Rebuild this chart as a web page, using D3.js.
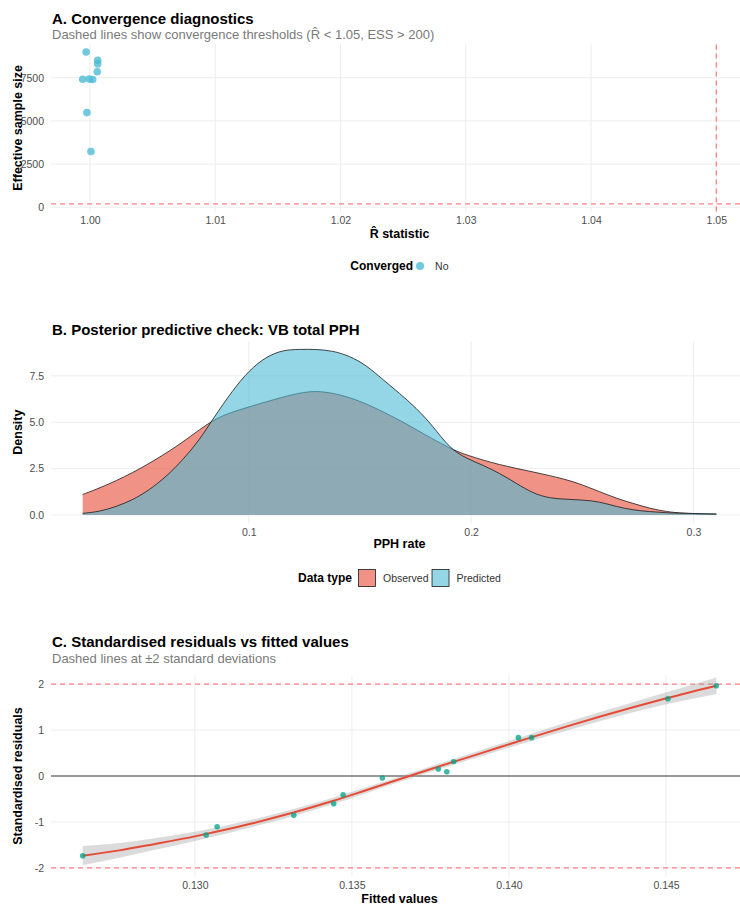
<!DOCTYPE html>
<html>
<head>
<meta charset="utf-8">
<script src="https://cdn.jsdelivr.net/npm/d3@7"></script>
<style>
body { margin: 0; background: #fff; }
svg { display: block; font-family: "Liberation Sans", Arial, sans-serif; }
</style>
</head>
<body>
<div id="chart"></div>
<script>
// A. convergence diagnostics (one point per parameter)
const rhat = [0.99970, 1.00062, 1.00062, 1.00058, 0.99942, 0.99994, 1.00022, 0.99976, 1.00008];
const ess = [8990, 8510, 8300, 7850, 7410, 7420, 7400, 5480, 3230];
const rhatCut = 1.05;
const essCut = 200;
const rhatTicks = [1.00, 1.01, 1.02, 1.03, 1.04, 1.05];
const essTicks = [0, 2500, 5000, 7500];

// B. posterior predictive densities
const obsX = [0.0253, 0.0328, 0.0478, 0.0628, 0.0718, 0.0838, 0.0928, 0.1078, 0.1228, 0.1321, 0.1425, 0.1528, 0.1678, 0.1790, 0.1903, 0.1978, 0.2128, 0.2278, 0.2428, 0.2502, 0.2578, 0.2653, 0.2727, 0.2803, 0.2878, 0.2952, 0.3103];
const obsY = [1.11, 1.44, 2.25, 3.32, 4.05, 5.14, 5.57, 6.10, 6.61, 6.70, 6.45, 6.02, 5.12, 4.35, 3.59, 3.23, 2.69, 2.33, 1.92, 1.62, 1.26, 0.90, 0.63, 0.36, 0.18, 0.09, 0.05];
const predX = [0.0253, 0.0328, 0.0403, 0.0478, 0.0553, 0.0628, 0.0703, 0.0778, 0.0838, 0.0928, 0.1003, 0.1078, 0.1153, 0.1228, 0.1303, 0.1378, 0.1453, 0.1528, 0.1603, 0.1678, 0.1753, 0.1828, 0.1903, 0.1978, 0.2053, 0.2128, 0.2203, 0.2278, 0.2353, 0.2428, 0.2503, 0.2578, 0.2653, 0.2728, 0.2803, 0.2878, 0.2952, 0.3103];
const predY = [0.09, 0.18, 0.45, 0.81, 1.35, 2.06, 2.96, 4.04, 5.16, 6.73, 7.81, 8.53, 8.89, 8.93, 8.93, 8.85, 8.57, 8.08, 7.30, 6.56, 5.77, 4.80, 3.60, 3.05, 2.69, 2.25, 1.71, 1.17, 0.90, 0.85, 0.81, 0.72, 0.45, 0.27, 0.18, 0.12, 0.09, 0.05];
const pphTicks = [0.1, 0.2, 0.3];
const densTicks = [0, 2.5, 5, 7.5];
const dataTypes = ["Observed", "Predicted"];

// C. residuals vs fitted
const fitted = [0.12643, 0.13036, 0.13071, 0.13315, 0.13442, 0.13472, 0.13597, 0.13775, 0.13802, 0.13824, 0.14030, 0.14072, 0.14506, 0.14660];
const resid = [-1.736, -1.285, -1.104, -0.857, -0.603, -0.407, -0.044, 0.153, 0.094, 0.312, 0.835, 0.835, 1.684, 1.967];
const smoothX = [0.12643, 0.12760, 0.12866, 0.13004, 0.13078, 0.13184, 0.13290, 0.13397, 0.13439, 0.13545, 0.13651, 0.13757, 0.13864, 0.13970, 0.14076, 0.14182, 0.14288, 0.14395, 0.14501, 0.14660];
const smoothY = [-1.736, -1.620, -1.490, -1.310, -1.200, -1.030, -0.840, -0.630, -0.545, -0.310, -0.070, 0.165, 0.395, 0.625, 0.852, 1.075, 1.290, 1.497, 1.693, 1.967];
const smoothSE = [0.21, 0.16, 0.13, 0.10, 0.09, 0.08, 0.08, 0.07, 0.07, 0.065, 0.06, 0.06, 0.065, 0.07, 0.08, 0.09, 0.10, 0.11, 0.13, 0.18];
const fitTicks = [0.130, 0.135, 0.140, 0.145];
const residTicks = [-2, -1, 0, 1, 2];
const sdCut = 2;

const W = 740, H = 905, L = 51, R = 748;
const gridCol = "#ebebeb", tickCol = "#4d4d4d", cutCol = "#ff8383";
const blue = "#4DBBD5", red = "#E64B35", teal = "#00A087";

const svg = d3.select("#chart").append("svg")
    .attr("width", W).attr("height", H);
svg.append("rect").attr("width", W).attr("height", H).attr("fill", "#fff");

function expand(ext) {
    let d = (ext[1] - ext[0]) * 0.05;
    return [ext[0] - d, ext[1] + d];
}

function text(x, y, t, size, opts) {
    opts = opts || {};
    let el = svg.append("text")
        .attr("x", x).attr("y", y).attr("dy", "0.35em")
        .attr("font-size", size)
        .attr("fill", opts.fill || "#000")
        .attr("font-weight", opts.bold ? "bold" : null)
        .attr("text-anchor", opts.anchor || "start")
        .text(t);
    if (opts.rotate) el.attr("transform", "rotate(-90 " + x + "," + y + ")");
    return el;
}

// grid + axes for one panel
function frame(x, y, xt, yt, top, bottom, xfmt, yfmt) {
    let g = svg.append("g");
    g.selectAll(".gx").data(xt).enter().append("line")
        .attr("x1", d => x(d)).attr("x2", d => x(d))
        .attr("y1", top).attr("y2", bottom)
        .attr("stroke", gridCol).attr("stroke-width", 0.9);
    g.selectAll(".gy").data(yt).enter().append("line")
        .attr("x1", L).attr("x2", R)
        .attr("y1", d => y(d)).attr("y2", d => y(d))
        .attr("stroke", gridCol).attr("stroke-width", 0.9);

    let ax = svg.append("g").attr("transform", "translate(0," + bottom + ")")
        .call(d3.axisBottom(x).tickValues(xt).tickSize(0).tickPadding(5).tickFormat(xfmt));
    let ay = svg.append("g").attr("transform", "translate(" + L + ",0)")
        .call(d3.axisLeft(y).tickValues(yt).tickSize(0).tickPadding(7).tickFormat(yfmt));
    [ax, ay].forEach(a => {
        a.select(".domain").remove();
        a.selectAll("text").attr("fill", tickCol).attr("font-size", 10.5)
            .attr("font-family", "Liberation Sans, Arial, sans-serif");
    });
}

const midX = (L + R) / 2;

// ---------- A ----------
{
    const top = 44.4, bottom = 211.4;
    const x = d3.scaleLinear().domain(expand(d3.extent(rhat.concat([rhatCut])))).range([L, R]);
    const y = d3.scaleLinear().domain(expand(d3.extent(ess.concat([essCut])))).range([bottom, top]);

    text(52, 18.3, "A. Convergence diagnostics", 15, { bold: true });
    text(52, 34.3, "Dashed lines show convergence thresholds (R\u0302 < 1.05, ESS > 200)", 13, { fill: "#7a7a7a" });

    frame(x, y, rhatTicks, essTicks, top, bottom, d3.format(".2f"), d => String(d));

    svg.append("line").attr("x1", L).attr("x2", R).attr("y1", y(essCut)).attr("y2", y(essCut))
        .attr("stroke", cutCol).attr("stroke-width", 1.3).attr("stroke-dasharray", "5,4");
    svg.append("line").attr("x1", x(rhatCut)).attr("x2", x(rhatCut)).attr("y1", top).attr("y2", bottom)
        .attr("stroke", cutCol).attr("stroke-width", 1.3).attr("stroke-dasharray", "5,4");

    svg.append("g").selectAll("circle").data(rhat).enter().append("circle")
        .attr("cx", d => x(d)).attr("cy", (d, i) => y(ess[i]))
        .attr("r", 3.8).attr("fill", blue).attr("fill-opacity", 0.8);

    text(midX, 234, "R\u0302 statistic", 12.5, { bold: true, anchor: "middle" });
    text(18, (top + bottom) / 2, "Effective sample size", 12.5, { bold: true, anchor: "middle", rotate: true });

    // legend
    let lg = svg.append("g");
    let t1 = lg.append("text").attr("x", 0).attr("y", 266).attr("dy", "0.35em")
        .attr("font-size", 12).attr("font-weight", "bold").text("Converged");
    let tw = t1.node().getComputedTextLength();
    lg.append("circle").attr("cx", tw + 7).attr("cy", 266).attr("r", 4)
        .attr("fill", blue).attr("fill-opacity", 0.8);
    lg.append("text").attr("x", tw + 22).attr("y", 266).attr("dy", "0.35em")
        .attr("font-size", 10.5).attr("fill", "#333").text("No");
    let bb = lg.node().getBBox();
    lg.attr("transform", "translate(" + (midX - bb.width / 2) + ",0)");
}

// ---------- B ----------
{
    const top = 341, bottom = 523.3;
    const x = d3.scaleLinear().domain(expand(d3.extent(obsX.concat(predX)))).range([L, R]);
    const y = d3.scaleLinear().domain(expand([0, d3.max(obsY.concat(predY))])).range([bottom, top]);

    text(52, 330, "B. Posterior predictive check: VB total PPH", 15, { bold: true });

    frame(x, y, pphTicks, densTicks, top, bottom, d3.format(".1f"), d3.format(".1f"));

    const series = [
        { xs: obsX, ys: obsY, col: red },
        { xs: predX, ys: predY, col: blue }
    ];
    const area = d3.area().x(d => x(d[0])).y0(y(0)).y1(d => y(d[1])).curve(d3.curveBasis);
    const line = d3.line().x(d => x(d[0])).y(d => y(d[1])).curve(d3.curveBasis);
    series.forEach(s => {
        let pts = s.xs.map((v, i) => [v, s.ys[i]]);
        svg.append("path").attr("d", area(pts)).attr("fill", s.col).attr("fill-opacity", 0.6);
        svg.append("path").attr("d", line(pts)).attr("fill", "none")
            .attr("stroke", "#1a1a1a").attr("stroke-width", 0.8);
    });

    text(midX, 544, "PPH rate", 12.5, { bold: true, anchor: "middle" });
    text(18, (top + bottom) / 2, "Density", 12.5, { bold: true, anchor: "middle", rotate: true });

    // legend
    let lg = svg.append("g");
    let t1 = lg.append("text").attr("x", 0).attr("y", 578).attr("dy", "0.35em")
        .attr("font-size", 12).attr("font-weight", "bold").text("Data type");
    let cx = t1.node().getComputedTextLength() + 6.5;
    dataTypes.forEach((name, i) => {
        lg.append("rect").attr("x", cx).attr("y", 569.5).attr("width", 17).attr("height", 17)
            .attr("fill", series[i].col).attr("fill-opacity", 0.6)
            .attr("stroke", "#1a1a1a").attr("stroke-width", 0.8);
        let t = lg.append("text").attr("x", cx + 24.5).attr("y", 578).attr("dy", "0.35em")
            .attr("font-size", 10.5).attr("fill", "#333").text(name);
        cx += 24.5 + t.node().getComputedTextLength() + 3.5;
    });
    let bb = lg.node().getBBox();
    lg.attr("transform", "translate(" + (midX - bb.width / 2) + ",0)");
}

// ---------- C ----------
{
    const top = 675, bottom = 877;
    const x = d3.scaleLinear().domain(expand(d3.extent(fitted))).range([L, R]);
    const y = d3.scaleLinear().domain(expand([-sdCut, sdCut])).range([bottom, top]);

    text(52, 641.7, "C. Standardised residuals vs fitted values", 15, { bold: true });
    text(52, 658.3, "Dashed lines at \u00b12 standard deviations", 13, { fill: "#7a7a7a" });

    frame(x, y, fitTicks, residTicks, top, bottom, d3.format(".3f"), d => String(d));

    svg.append("line").attr("x1", L).attr("x2", R).attr("y1", y(0)).attr("y2", y(0))
        .attr("stroke", "#3a3a3a").attr("stroke-width", 1.1);
    [sdCut, -sdCut].forEach(v => {
        svg.append("line").attr("x1", L).attr("x2", R).attr("y1", y(v)).attr("y2", y(v))
            .attr("stroke", cutCol).attr("stroke-width", 1.3).attr("stroke-dasharray", "5,4");
    });

    const sm = smoothX.map((v, i) => [v, smoothY[i], smoothSE[i]]);
    svg.append("path")
        .attr("d", d3.area().x(d => x(d[0])).y0(d => y(d[1] - d[2])).y1(d => y(d[1] + d[2]))
            .curve(d3.curveMonotoneX)(sm))
        .attr("fill", "#999").attr("fill-opacity", 0.35);
    svg.append("path")
        .attr("d", d3.line().x(d => x(d[0])).y(d => y(d[1])).curve(d3.curveMonotoneX)(sm))
        .attr("fill", "none").attr("stroke", red).attr("stroke-width", 2);

    svg.append("g").selectAll("circle").data(fitted).enter().append("circle")
        .attr("cx", d => x(d)).attr("cy", (d, i) => y(resid[i]))
        .attr("r", 2.8).attr("fill", teal).attr("fill-opacity", 0.75);

    text(midX, 899, "Fitted values", 12.5, { bold: true, anchor: "middle" });
    text(18, (top + bottom) / 2, "Standardised residuals", 12.5, { bold: true, anchor: "middle", rotate: true });
}
</script>
</body>
</html>
